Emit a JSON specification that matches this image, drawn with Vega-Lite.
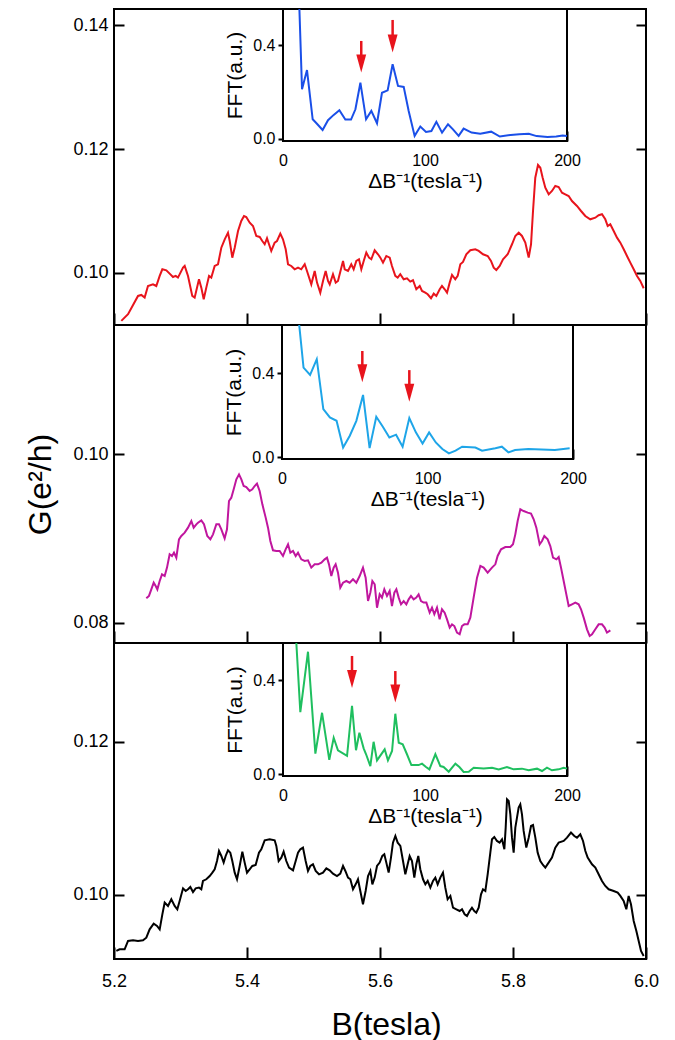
{
  "$schema": "https://vega.github.io/schema/vega-lite/v6.json",
  "background": "white",
  "padding": {"left": 23, "top": 7, "right": 5, "bottom": 0},
  "spacing": 0,
  "bounds": "flush",
  "config": {
    "font": "Liberation Sans",
    "view": {"stroke": "black", "strokeWidth": 2},
    "axis": {"labelFont": "Liberation Sans", "titleFont": "Liberation Sans", "labelColor": "black", "titleColor": "black", "tickColor": "black", "titleFontWeight": "normal", "labelFlush": false, "grid": false, "labelOverlap": false}
  },
  "datasets": {
    "top": [{"B":5.2110,"G":0.09226},{"B":5.2211,"G":0.09334},{"B":5.2361,"G":0.09629},{"B":5.2411,"G":0.09645},{"B":5.2461,"G":0.09602},{"B":5.2511,"G":0.09790},{"B":5.2586,"G":0.09817},{"B":5.2636,"G":0.09790},{"B":5.2687,"G":0.09952},{"B":5.2727,"G":0.10059},{"B":5.2787,"G":0.10043},{"B":5.2837,"G":0.09989},{"B":5.2887,"G":0.09935},{"B":5.2928,"G":0.09952},{"B":5.2962,"G":0.09925},{"B":5.3038,"G":0.10086},{"B":5.3063,"G":0.10113},{"B":5.3113,"G":0.09952},{"B":5.3177,"G":0.09629},{"B":5.3213,"G":0.09602},{"B":5.3278,"G":0.09898},{"B":5.3313,"G":0.09763},{"B":5.3349,"G":0.09575},{"B":5.3388,"G":0.09763},{"B":5.3429,"G":0.09952},{"B":5.3463,"G":0.09925},{"B":5.3514,"G":0.10113},{"B":5.3564,"G":0.10140},{"B":5.3614,"G":0.10408},{"B":5.3665,"G":0.10543},{"B":5.3714,"G":0.10650},{"B":5.3740,"G":0.10516},{"B":5.3779,"G":0.10247},{"B":5.3815,"G":0.10408},{"B":5.3865,"G":0.10677},{"B":5.3914,"G":0.10839},{"B":5.3955,"G":0.10919},{"B":5.3989,"G":0.10903},{"B":5.4041,"G":0.10811},{"B":5.4090,"G":0.10758},{"B":5.4140,"G":0.10597},{"B":5.4191,"G":0.10581},{"B":5.4230,"G":0.10516},{"B":5.4266,"G":0.10463},{"B":5.4301,"G":0.10560},{"B":5.4331,"G":0.10463},{"B":5.4365,"G":0.10355},{"B":5.4416,"G":0.10489},{"B":5.4451,"G":0.10516},{"B":5.4501,"G":0.10634},{"B":5.4541,"G":0.10543},{"B":5.4582,"G":0.10382},{"B":5.4617,"G":0.10140},{"B":5.4666,"G":0.10113},{"B":5.4717,"G":0.10059},{"B":5.4767,"G":0.10086},{"B":5.4816,"G":0.10059},{"B":5.4868,"G":0.10140},{"B":5.4902,"G":0.10032},{"B":5.4967,"G":0.09817},{"B":5.5018,"G":0.10032},{"B":5.5053,"G":0.09844},{"B":5.5102,"G":0.09682},{"B":5.5143,"G":0.09871},{"B":5.5183,"G":0.10032},{"B":5.5218,"G":0.09871},{"B":5.5244,"G":0.09817},{"B":5.5293,"G":0.09979},{"B":5.5334,"G":0.09844},{"B":5.5368,"G":0.09871},{"B":5.5444,"G":0.10194},{"B":5.5469,"G":0.10059},{"B":5.5519,"G":0.10032},{"B":5.5568,"G":0.10140},{"B":5.5604,"G":0.10059},{"B":5.5644,"G":0.10194},{"B":5.5684,"G":0.10221},{"B":5.5719,"G":0.10059},{"B":5.5755,"G":0.10194},{"B":5.5794,"G":0.10328},{"B":5.5835,"G":0.10247},{"B":5.5869,"G":0.10221},{"B":5.5920,"G":0.10366},{"B":5.5970,"G":0.10301},{"B":5.6005,"G":0.10247},{"B":5.6045,"G":0.10167},{"B":5.6095,"G":0.10274},{"B":5.6146,"G":0.10247},{"B":5.6180,"G":0.10113},{"B":5.6230,"G":0.09952},{"B":5.6266,"G":0.09925},{"B":5.6305,"G":0.09979},{"B":5.6356,"G":0.09898},{"B":5.6406,"G":0.09914},{"B":5.6455,"G":0.09860},{"B":5.6496,"G":0.09882},{"B":5.6546,"G":0.09737},{"B":5.6597,"G":0.09790},{"B":5.6632,"G":0.09710},{"B":5.6681,"G":0.09682},{"B":5.6717,"G":0.09656},{"B":5.6767,"G":0.09592},{"B":5.6808,"G":0.09666},{"B":5.6847,"G":0.09629},{"B":5.6898,"G":0.09737},{"B":5.6932,"G":0.09790},{"B":5.6973,"G":0.09737},{"B":5.7008,"G":0.09682},{"B":5.7048,"G":0.09844},{"B":5.7083,"G":0.09968},{"B":5.7132,"G":0.09898},{"B":5.7168,"G":0.09952},{"B":5.7208,"G":0.10140},{"B":5.7248,"G":0.10177},{"B":5.7298,"G":0.10301},{"B":5.7358,"G":0.10366},{"B":5.7433,"G":0.10382},{"B":5.7484,"G":0.10355},{"B":5.7549,"G":0.10301},{"B":5.7620,"G":0.10274},{"B":5.7669,"G":0.10194},{"B":5.7710,"G":0.10086},{"B":5.7749,"G":0.10048},{"B":5.7800,"G":0.10113},{"B":5.7850,"G":0.10221},{"B":5.7920,"G":0.10301},{"B":5.7985,"G":0.10463},{"B":5.8035,"G":0.10597},{"B":5.8086,"G":0.10650},{"B":5.8135,"G":0.10597},{"B":5.8185,"G":0.10489},{"B":5.8236,"G":0.10247},{"B":5.8271,"G":0.10463},{"B":5.8301,"G":0.11000},{"B":5.8335,"G":0.11537},{"B":5.8376,"G":0.11742},{"B":5.8411,"G":0.11698},{"B":5.8446,"G":0.11537},{"B":5.8486,"G":0.11376},{"B":5.8537,"G":0.11269},{"B":5.8586,"G":0.11323},{"B":5.8636,"G":0.11403},{"B":5.8687,"G":0.11387},{"B":5.8737,"G":0.11296},{"B":5.8786,"G":0.11269},{"B":5.8837,"G":0.11242},{"B":5.8887,"G":0.11161},{"B":5.8962,"G":0.11081},{"B":5.9023,"G":0.11000},{"B":5.9087,"G":0.10919},{"B":5.9162,"G":0.10866},{"B":5.9238,"G":0.10892},{"B":5.9288,"G":0.10931},{"B":5.9338,"G":0.10947},{"B":5.9388,"G":0.10866},{"B":5.9424,"G":0.10758},{"B":5.9463,"G":0.10785},{"B":5.9514,"G":0.10677},{"B":5.9564,"G":0.10570},{"B":5.9614,"G":0.10489},{"B":5.9665,"G":0.10382},{"B":5.9714,"G":0.10274},{"B":5.9764,"G":0.10167},{"B":5.9815,"G":0.10059},{"B":5.9865,"G":0.09952},{"B":5.9914,"G":0.09871},{"B":5.9965,"G":0.09753}],
    "mid": [{"B":5.2486,"G":0.08292},{"B":5.2526,"G":0.08320},{"B":5.2561,"G":0.08398},{"B":5.2597,"G":0.08477},{"B":5.2627,"G":0.08438},{"B":5.2652,"G":0.08398},{"B":5.2687,"G":0.08497},{"B":5.2722,"G":0.08576},{"B":5.2762,"G":0.08556},{"B":5.2797,"G":0.08655},{"B":5.2837,"G":0.08813},{"B":5.2872,"G":0.08793},{"B":5.2902,"G":0.08832},{"B":5.2937,"G":0.08773},{"B":5.2977,"G":0.08990},{"B":5.3012,"G":0.09030},{"B":5.3063,"G":0.09069},{"B":5.3113,"G":0.09128},{"B":5.3163,"G":0.09207},{"B":5.3198,"G":0.09128},{"B":5.3238,"G":0.09168},{"B":5.3263,"G":0.09187},{"B":5.3313,"G":0.09215},{"B":5.3353,"G":0.09168},{"B":5.3403,"G":0.09030},{"B":5.3449,"G":0.08990},{"B":5.3489,"G":0.09049},{"B":5.3539,"G":0.09168},{"B":5.3579,"G":0.09168},{"B":5.3614,"G":0.09108},{"B":5.3664,"G":0.09002},{"B":5.3699,"G":0.09108},{"B":5.3729,"G":0.09444},{"B":5.3764,"G":0.09483},{"B":5.3800,"G":0.09582},{"B":5.3840,"G":0.09700},{"B":5.3880,"G":0.09759},{"B":5.3915,"G":0.09700},{"B":5.3950,"G":0.09621},{"B":5.3990,"G":0.09609},{"B":5.4040,"G":0.09562},{"B":5.4080,"G":0.09582},{"B":5.4115,"G":0.09621},{"B":5.4150,"G":0.09649},{"B":5.4190,"G":0.09562},{"B":5.4231,"G":0.09404},{"B":5.4281,"G":0.09247},{"B":5.4316,"G":0.09128},{"B":5.4351,"G":0.08970},{"B":5.4391,"G":0.08860},{"B":5.4441,"G":0.08852},{"B":5.4491,"G":0.08852},{"B":5.4541,"G":0.08793},{"B":5.4581,"G":0.08872},{"B":5.4617,"G":0.08931},{"B":5.4652,"G":0.08832},{"B":5.4692,"G":0.08852},{"B":5.4732,"G":0.08793},{"B":5.4767,"G":0.08832},{"B":5.4817,"G":0.08753},{"B":5.4867,"G":0.08734},{"B":5.4917,"G":0.08742},{"B":5.4967,"G":0.08655},{"B":5.5017,"G":0.08694},{"B":5.5068,"G":0.08694},{"B":5.5118,"G":0.08714},{"B":5.5168,"G":0.08753},{"B":5.5203,"G":0.08773},{"B":5.5233,"G":0.08694},{"B":5.5268,"G":0.08556},{"B":5.5303,"G":0.08655},{"B":5.5333,"G":0.08694},{"B":5.5368,"G":0.08596},{"B":5.5403,"G":0.08418},{"B":5.5444,"G":0.08477},{"B":5.5494,"G":0.08497},{"B":5.5544,"G":0.08477},{"B":5.5594,"G":0.08517},{"B":5.5644,"G":0.08477},{"B":5.5694,"G":0.08556},{"B":5.5744,"G":0.08655},{"B":5.5784,"G":0.08536},{"B":5.5820,"G":0.08260},{"B":5.5855,"G":0.08359},{"B":5.5885,"G":0.08497},{"B":5.5920,"G":0.08458},{"B":5.5955,"G":0.08181},{"B":5.5995,"G":0.08339},{"B":5.6030,"G":0.08300},{"B":5.6065,"G":0.08398},{"B":5.6105,"G":0.08320},{"B":5.6145,"G":0.08379},{"B":5.6180,"G":0.08201},{"B":5.6216,"G":0.08359},{"B":5.6246,"G":0.08398},{"B":5.6281,"G":0.08300},{"B":5.6316,"G":0.08221},{"B":5.6356,"G":0.08260},{"B":5.6396,"G":0.08221},{"B":5.6431,"G":0.08280},{"B":5.6466,"G":0.08320},{"B":5.6506,"G":0.08280},{"B":5.6546,"G":0.08300},{"B":5.6581,"G":0.08339},{"B":5.6617,"G":0.08260},{"B":5.6657,"G":0.08241},{"B":5.6697,"G":0.08241},{"B":5.6747,"G":0.08122},{"B":5.6782,"G":0.08181},{"B":5.6817,"G":0.08103},{"B":5.6857,"G":0.08181},{"B":5.6897,"G":0.08043},{"B":5.6932,"G":0.08162},{"B":5.6972,"G":0.08122},{"B":5.7008,"G":0.08043},{"B":5.7048,"G":0.07945},{"B":5.7083,"G":0.07984},{"B":5.7118,"G":0.07964},{"B":5.7158,"G":0.07886},{"B":5.7198,"G":0.07866},{"B":5.7233,"G":0.07964},{"B":5.7268,"G":0.07984},{"B":5.7318,"G":0.07984},{"B":5.7358,"G":0.08063},{"B":5.7408,"G":0.08300},{"B":5.7459,"G":0.08536},{"B":5.7509,"G":0.08675},{"B":5.7559,"G":0.08655},{"B":5.7619,"G":0.08596},{"B":5.7684,"G":0.08655},{"B":5.7734,"G":0.08694},{"B":5.7769,"G":0.08793},{"B":5.7820,"G":0.08872},{"B":5.7885,"G":0.08899},{"B":5.7960,"G":0.08899},{"B":5.8000,"G":0.08931},{"B":5.8035,"G":0.09049},{"B":5.8070,"G":0.09207},{"B":5.8110,"G":0.09345},{"B":5.8160,"G":0.09325},{"B":5.8221,"G":0.09306},{"B":5.8271,"G":0.09294},{"B":5.8311,"G":0.09227},{"B":5.8351,"G":0.09128},{"B":5.8401,"G":0.08931},{"B":5.8436,"G":0.08970},{"B":5.8471,"G":0.09030},{"B":5.8521,"G":0.08990},{"B":5.8561,"G":0.08911},{"B":5.8602,"G":0.08773},{"B":5.8652,"G":0.08753},{"B":5.8687,"G":0.08781},{"B":5.8722,"G":0.08655},{"B":5.8762,"G":0.08497},{"B":5.8802,"G":0.08339},{"B":5.8837,"G":0.08201},{"B":5.8887,"G":0.08221},{"B":5.8937,"G":0.08241},{"B":5.8987,"G":0.08221},{"B":5.9023,"G":0.08162},{"B":5.9063,"G":0.08063},{"B":5.9113,"G":0.07925},{"B":5.9153,"G":0.07846},{"B":5.9188,"G":0.07866},{"B":5.9238,"G":0.07925},{"B":5.9288,"G":0.07984},{"B":5.9338,"G":0.07984},{"B":5.9378,"G":0.07945},{"B":5.9413,"G":0.07886},{"B":5.9464,"G":0.07913}],
    "bot": [{"B":5.2035,"G":0.09268},{"B":5.2085,"G":0.09290},{"B":5.2160,"G":0.09290},{"B":5.2211,"G":0.09399},{"B":5.2286,"G":0.09407},{"B":5.2361,"G":0.09399},{"B":5.2436,"G":0.09407},{"B":5.2486,"G":0.09442},{"B":5.2536,"G":0.09551},{"B":5.2597,"G":0.09625},{"B":5.2647,"G":0.09595},{"B":5.2687,"G":0.09551},{"B":5.2727,"G":0.09747},{"B":5.2762,"G":0.09900},{"B":5.2812,"G":0.09856},{"B":5.2862,"G":0.09943},{"B":5.2912,"G":0.09856},{"B":5.2952,"G":0.09813},{"B":5.2987,"G":0.09922},{"B":5.3038,"G":0.10087},{"B":5.3078,"G":0.10052},{"B":5.3113,"G":0.10074},{"B":5.3148,"G":0.10105},{"B":5.3188,"G":0.10039},{"B":5.3228,"G":0.10087},{"B":5.3278,"G":0.10096},{"B":5.3313,"G":0.10074},{"B":5.3338,"G":0.10183},{"B":5.3388,"G":0.10205},{"B":5.3439,"G":0.10248},{"B":5.3479,"G":0.10292},{"B":5.3514,"G":0.10336},{"B":5.3549,"G":0.10444},{"B":5.3579,"G":0.10575},{"B":5.3614,"G":0.10510},{"B":5.3649,"G":0.10423},{"B":5.3679,"G":0.10510},{"B":5.3714,"G":0.10584},{"B":5.3749,"G":0.10553},{"B":5.3779,"G":0.10444},{"B":5.3815,"G":0.10292},{"B":5.3850,"G":0.10205},{"B":5.3890,"G":0.10379},{"B":5.3930,"G":0.10566},{"B":5.3965,"G":0.10423},{"B":5.4000,"G":0.10292},{"B":5.4040,"G":0.10336},{"B":5.4080,"G":0.10379},{"B":5.4130,"G":0.10392},{"B":5.4180,"G":0.10553},{"B":5.4215,"G":0.10597},{"B":5.4266,"G":0.10715},{"B":5.4341,"G":0.10728},{"B":5.4416,"G":0.10715},{"B":5.4441,"G":0.10641},{"B":5.4476,"G":0.10444},{"B":5.4516,"G":0.10488},{"B":5.4551,"G":0.10566},{"B":5.4591,"G":0.10444},{"B":5.4632,"G":0.10357},{"B":5.4692,"G":0.10322},{"B":5.4732,"G":0.10444},{"B":5.4767,"G":0.10553},{"B":5.4802,"G":0.10597},{"B":5.4842,"G":0.10619},{"B":5.4882,"G":0.10444},{"B":5.4917,"G":0.10314},{"B":5.4952,"G":0.10379},{"B":5.4992,"G":0.10401},{"B":5.5033,"G":0.10314},{"B":5.5083,"G":0.10270},{"B":5.5143,"G":0.10292},{"B":5.5193,"G":0.10349},{"B":5.5243,"G":0.10322},{"B":5.5293,"G":0.10279},{"B":5.5353,"G":0.10248},{"B":5.5403,"G":0.10279},{"B":5.5444,"G":0.10379},{"B":5.5479,"G":0.10314},{"B":5.5519,"G":0.10227},{"B":5.5554,"G":0.10205},{"B":5.5594,"G":0.10074},{"B":5.5634,"G":0.10139},{"B":5.5669,"G":0.10205},{"B":5.5704,"G":0.10052},{"B":5.5744,"G":0.09878},{"B":5.5784,"G":0.10052},{"B":5.5820,"G":0.10248},{"B":5.5855,"G":0.10314},{"B":5.5885,"G":0.10139},{"B":5.5920,"G":0.10227},{"B":5.5955,"G":0.10379},{"B":5.5995,"G":0.10423},{"B":5.6035,"G":0.10510},{"B":5.6065,"G":0.10532},{"B":5.6095,"G":0.10423},{"B":5.6130,"G":0.10292},{"B":5.6165,"G":0.10488},{"B":5.6195,"G":0.10684},{"B":5.6231,"G":0.10771},{"B":5.6266,"G":0.10684},{"B":5.6306,"G":0.10641},{"B":5.6346,"G":0.10444},{"B":5.6381,"G":0.10270},{"B":5.6416,"G":0.10401},{"B":5.6446,"G":0.10510},{"B":5.6481,"G":0.10444},{"B":5.6516,"G":0.10227},{"B":5.6546,"G":0.10401},{"B":5.6576,"G":0.10510},{"B":5.6606,"G":0.10336},{"B":5.6647,"G":0.10205},{"B":5.6682,"G":0.10139},{"B":5.6717,"G":0.10183},{"B":5.6757,"G":0.10096},{"B":5.6797,"G":0.10183},{"B":5.6832,"G":0.10227},{"B":5.6867,"G":0.10139},{"B":5.6907,"G":0.10227},{"B":5.6947,"G":0.10292},{"B":5.6982,"G":0.10096},{"B":5.7017,"G":0.09943},{"B":5.7058,"G":0.09987},{"B":5.7098,"G":0.09834},{"B":5.7148,"G":0.09813},{"B":5.7198,"G":0.09791},{"B":5.7233,"G":0.09813},{"B":5.7273,"G":0.09747},{"B":5.7308,"G":0.09725},{"B":5.7348,"G":0.09791},{"B":5.7383,"G":0.09834},{"B":5.7418,"G":0.09791},{"B":5.7448,"G":0.09769},{"B":5.7484,"G":0.09834},{"B":5.7519,"G":0.10009},{"B":5.7549,"G":0.10074},{"B":5.7584,"G":0.10052},{"B":5.7619,"G":0.10270},{"B":5.7659,"G":0.10553},{"B":5.7684,"G":0.10728},{"B":5.7719,"G":0.10758},{"B":5.7759,"G":0.10706},{"B":5.7799,"G":0.10684},{"B":5.7835,"G":0.10728},{"B":5.7870,"G":0.10597},{"B":5.7890,"G":0.10880},{"B":5.7910,"G":0.11251},{"B":5.7935,"G":0.11229},{"B":5.7960,"G":0.11054},{"B":5.7985,"G":0.10749},{"B":5.8010,"G":0.10553},{"B":5.8035,"G":0.10880},{"B":5.8060,"G":0.11011},{"B":5.8085,"G":0.11142},{"B":5.8110,"G":0.11185},{"B":5.8135,"G":0.11054},{"B":5.8160,"G":0.10837},{"B":5.8200,"G":0.10619},{"B":5.8236,"G":0.10749},{"B":5.8271,"G":0.10902},{"B":5.8301,"G":0.10915},{"B":5.8336,"G":0.10749},{"B":5.8371,"G":0.10553},{"B":5.8411,"G":0.10444},{"B":5.8451,"G":0.10392},{"B":5.8486,"G":0.10357},{"B":5.8536,"G":0.10423},{"B":5.8586,"G":0.10488},{"B":5.8636,"G":0.10619},{"B":5.8687,"G":0.10684},{"B":5.8762,"G":0.10706},{"B":5.8812,"G":0.10749},{"B":5.8872,"G":0.10815},{"B":5.8922,"G":0.10771},{"B":5.8962,"G":0.10749},{"B":5.9012,"G":0.10793},{"B":5.9053,"G":0.10706},{"B":5.9088,"G":0.10575},{"B":5.9123,"G":0.10488},{"B":5.9188,"G":0.10401},{"B":5.9238,"G":0.10357},{"B":5.9288,"G":0.10270},{"B":5.9338,"G":0.10183},{"B":5.9388,"G":0.10118},{"B":5.9439,"G":0.10074},{"B":5.9514,"G":0.10052},{"B":5.9574,"G":0.10030},{"B":5.9614,"G":0.09987},{"B":5.9664,"G":0.09922},{"B":5.9704,"G":0.09813},{"B":5.9739,"G":0.09987},{"B":5.9774,"G":0.09878},{"B":5.9815,"G":0.09660},{"B":5.9855,"G":0.09529},{"B":5.9890,"G":0.09399},{"B":5.9925,"G":0.09268},{"B":5.9965,"G":0.09203}],
    "fftTop": [{"dB":11.2,"F":0.62},{"dB":13.4,"F":0.212},{"dB":16.9,"F":0.294},{"dB":20.9,"F":0.083},{"dB":23.9,"F":0.064},{"dB":27.9,"F":0.037},{"dB":31.7,"F":0.079},{"dB":35.7,"F":0.102},{"dB":39.7,"F":0.122},{"dB":43.9,"F":0.082},{"dB":47.9,"F":0.082},{"dB":51.0,"F":0.126},{"dB":54.5,"F":0.240},{"dB":58.5,"F":0.083},{"dB":62.2,"F":0.119},{"dB":66.2,"F":0.066},{"dB":69.7,"F":0.197},{"dB":73.7,"F":0.207},{"dB":77.2,"F":0.319},{"dB":81.0,"F":0.226},{"dB":85.0,"F":0.222},{"dB":88.5,"F":0.119},{"dB":92.7,"F":0.012},{"dB":96.7,"F":0.052},{"dB":100.7,"F":0.029},{"dB":104.5,"F":0.033},{"dB":108.0,"F":0.072},{"dB":112.0,"F":0.026},{"dB":116.2,"F":0.062},{"dB":119.7,"F":0.040},{"dB":123.7,"F":0.012},{"dB":127.2,"F":0.043},{"dB":132.8,"F":0.026},{"dB":138.9,"F":0.021},{"dB":146.6,"F":0.030},{"dB":152.7,"F":0.009},{"dB":160.3,"F":0.016},{"dB":166.4,"F":0.019},{"dB":173.1,"F":0.021},{"dB":178.6,"F":0.011},{"dB":186.3,"F":0.007},{"dB":192.4,"F":0.009},{"dB":196.9,"F":0.014},{"dB":200,"F":0.011}],
    "fftMid": [{"dB":10.8,"F":0.70},{"dB":14.8,"F":0.427},{"dB":19.3,"F":0.392},{"dB":23.9,"F":0.467},{"dB":28.4,"F":0.230},{"dB":32.9,"F":0.190},{"dB":37.5,"F":0.174},{"dB":42.0,"F":0.047},{"dB":46.6,"F":0.103},{"dB":51.1,"F":0.174},{"dB":55.7,"F":0.297},{"dB":60.2,"F":0.044},{"dB":64.8,"F":0.193},{"dB":69.3,"F":0.146},{"dB":73.8,"F":0.095},{"dB":78.4,"F":0.108},{"dB":82.9,"F":0.051},{"dB":87.5,"F":0.187},{"dB":92.0,"F":0.119},{"dB":96.6,"F":0.066},{"dB":101.1,"F":0.119},{"dB":105.7,"F":0.071},{"dB":110.2,"F":0.040},{"dB":114.7,"F":0.019},{"dB":119.3,"F":0.032},{"dB":123.8,"F":0.051},{"dB":132.9,"F":0.047},{"dB":137.5,"F":0.032},{"dB":146.6,"F":0.044},{"dB":151.1,"F":0.051},{"dB":155.6,"F":0.024},{"dB":160.2,"F":0.035},{"dB":169.3,"F":0.040},{"dB":178.4,"F":0.038},{"dB":187.5,"F":0.035},{"dB":197.7,"F":0.043}],
    "fftBot": [{"dB":8.6,"F":0.64},{"dB":12.2,"F":0.264},{"dB":17.6,"F":0.520},{"dB":22.8,"F":0.088},{"dB":27.5,"F":0.261},{"dB":32.6,"F":0.061},{"dB":35.7,"F":0.155},{"dB":38.7,"F":0.102},{"dB":45.1,"F":0.078},{"dB":48.6,"F":0.290},{"dB":51.4,"F":0.102},{"dB":53.8,"F":0.176},{"dB":56.8,"F":0.110},{"dB":58.5,"F":0.085},{"dB":61.5,"F":0.035},{"dB":63.8,"F":0.138},{"dB":66.2,"F":0.059},{"dB":71.6,"F":0.106},{"dB":73.9,"F":0.059},{"dB":76.8,"F":0.099},{"dB":79.1,"F":0.257},{"dB":81.5,"F":0.134},{"dB":84.3,"F":0.127},{"dB":87.3,"F":0.085},{"dB":90.4,"F":0.039},{"dB":95.5,"F":0.039},{"dB":97.9,"F":0.045},{"dB":100.7,"F":0.031},{"dB":103.1,"F":0.021},{"dB":107.3,"F":0.085},{"dB":110.8,"F":0.035},{"dB":113.1,"F":0.031},{"dB":116.7,"F":0.011},{"dB":121.4,"F":0.045},{"dB":124.2,"F":0.031},{"dB":127.2,"F":0.010},{"dB":130.8,"F":0.011},{"dB":134.3,"F":0.028},{"dB":141.3,"F":0.025},{"dB":147.2,"F":0.028},{"dB":151.9,"F":0.021},{"dB":157.7,"F":0.031},{"dB":162.4,"F":0.021},{"dB":168.3,"F":0.024},{"dB":173.0,"F":0.017},{"dB":178.9,"F":0.024},{"dB":182.4,"F":0.014},{"dB":185.9,"F":0.028},{"dB":189.4,"F":0.017},{"dB":194.1,"F":0.021},{"dB":197.7,"F":0.028},{"dB":200,"F":0.024}],
    "arrTop": [{"dB":55.1,"top":0.419,"head":0.322},{"dB":77.2,"top":0.509,"head":0.408}],
    "arrMid": [{"dB":55.2,"top":0.506,"head":0.400},{"dB":87.5,"top":0.415,"head":0.307}],
    "arrBot": [{"dB":48.6,"top":0.502,"head":0.404},{"dB":79.1,"top":0.438,"head":0.343}]
  },
  "vconcat": [
    {
      "width": 532, "height": 316,
      "resolve": {"scale": {"x": "independent", "y": "independent"}},
      "layer": [
        {
          "data": {"name": "top"},
          "mark": {"type": "line", "color": "#e8141c", "strokeWidth": 2},
          "encoding": {
            "x": {"field": "B", "type": "quantitative", "scale": {"domain": [5.2, 6.0], "nice": false, "zero": false},
                  "axis": {"orient": "bottom", "values": [5.2, 5.4, 5.6, 5.8, 6.0], "tickSize": -12, "tickWidth": 2, "labels": false, "domain": false, "title": null}},
            "y": {"field": "G", "type": "quantitative", "scale": {"domain": [0.0916, 0.1426], "nice": false, "zero": false},
                  "axis": {"orient": "left", "values": [0.10, 0.12, 0.14], "format": ".2f", "tickSize": -10, "tickWidth": 2, "labelPadding": 16, "labelFontSize": 18, "domain": false, "title": null}}
          }
        },
        {
          "data": {"name": "top"},
          "mark": {"type": "line", "opacity": 0},
          "encoding": {
            "x": {"field": "B", "type": "quantitative", "scale": {"domain": [5.2, 6.0], "nice": false, "zero": false}, "axis": null},
            "y": {"field": "G", "type": "quantitative", "scale": {"domain": [0.0916, 0.1426], "nice": false, "zero": false},
                  "axis": {"orient": "right", "values": [0.10, 0.12, 0.14], "tickSize": -10, "tickWidth": 2, "labels": false, "domain": false, "title": null}}
          }
        },
        {
          "layer": [
            {
              "data": {"values": [{}]},
              "mark": {"type": "rect", "fill": "white", "stroke": "black", "strokeWidth": 2},
              "encoding": {
                "x": {"datum": 0, "type": "quantitative"},
                "x2": {"datum": 200},
                "y": {"datum": -0.010, "type": "quantitative"},
                "y2": {"datum": 0.556}
              }
            },
            {
              "data": {"name": "fftTop"},
              "mark": {"type": "line", "color": "#1a4fe8", "strokeWidth": 2, "clip": true},
              "encoding": {
                "x": {"field": "dB", "type": "quantitative", "scale": {"domain": [0, 200], "range": [169, 453], "nice": false, "zero": false},
                      "axis": {"orient": "bottom", "offset": -184, "values": [0, 100, 200], "tickSize": -10, "tickWidth": 2, "labelPadding": 21, "labelFontSize": 16, "domain": false, "title": "ΔB⁻¹(tesla⁻¹)", "titleFontSize": 21, "titlePadding": 2}},
                "y": {"field": "F", "type": "quantitative", "scale": {"domain": [-0.010, 0.556], "range": [132, 0], "nice": false, "zero": false},
                      "axis": {"orient": "left", "offset": -169, "values": [0, 0.4], "format": ".1f", "tickSize": 5, "tickWidth": 2, "labelPadding": 3, "labelFontSize": 16, "domain": false, "title": "FFT(a.u.)", "titleFontSize": 21, "titlePadding": 7}}
              }
            },
            {
              "data": {"name": "arrTop"},
              "mark": {"type": "rule", "color": "#e8141c", "strokeWidth": 2.5},
              "encoding": {"x": {"field": "dB", "type": "quantitative"}, "y": {"field": "top", "type": "quantitative"}, "y2": {"field": "head"}}
            },
            {
              "data": {"name": "arrTop"},
              "mark": {"type": "point", "shape": "M-0.55,-1L0.55,-1L0,1Z", "filled": true, "color": "#e8141c", "size": 324, "opacity": 1},
              "encoding": {"x": {"field": "dB", "type": "quantitative"}, "y": {"field": "head", "type": "quantitative"}}
            }
          ]
        }
      ]
    },
    {
      "width": 532, "height": 318,
      "resolve": {"scale": {"x": "independent", "y": "independent"}},
      "layer": [
        {
          "data": {"name": "mid"},
          "mark": {"type": "line", "color": "#c0169e", "strokeWidth": 2},
          "encoding": {
            "x": {"field": "B", "type": "quantitative", "scale": {"domain": [5.2, 6.0], "nice": false, "zero": false},
                  "axis": {"orient": "bottom", "values": [5.2, 5.4, 5.6, 5.8, 6.0], "tickSize": -12, "tickWidth": 2, "labels": false, "domain": false, "title": null}},
            "y": {"field": "G", "type": "quantitative", "scale": {"domain": [0.07763, 0.11527], "nice": false, "zero": false},
                  "axis": {"orient": "left", "values": [0.08, 0.10], "format": ".2f", "tickSize": -10, "tickWidth": 2, "labelPadding": 16, "labelFontSize": 18, "domain": false, "title": "G(e²/h)", "titleFontSize": 32, "titlePadding": 15}}
          }
        },
        {
          "data": {"name": "mid"},
          "mark": {"type": "line", "opacity": 0},
          "encoding": {
            "x": {"field": "B", "type": "quantitative", "scale": {"domain": [5.2, 6.0], "nice": false, "zero": false}, "axis": null},
            "y": {"field": "G", "type": "quantitative", "scale": {"domain": [0.07763, 0.11527], "nice": false, "zero": false},
                  "axis": {"orient": "right", "values": [0.08, 0.10], "tickSize": -10, "tickWidth": 2, "labels": false, "domain": false, "title": null}}
          }
        },
        {
          "layer": [
            {
              "data": {"values": [{}]},
              "mark": {"type": "rect", "fill": "white", "stroke": "black", "strokeWidth": 2},
              "encoding": {
                "x": {"datum": 0, "type": "quantitative"},
                "x2": {"datum": 200},
                "y": {"datum": -0.0076, "type": "quantitative"},
                "y2": {"datum": 0.6295}
              }
            },
            {
              "data": {"name": "fftMid"},
              "mark": {"type": "line", "color": "#1ea5e8", "strokeWidth": 2, "clip": true},
              "encoding": {
                "x": {"field": "dB", "type": "quantitative", "scale": {"domain": [0, 200], "range": [168, 459], "nice": false, "zero": false},
                      "axis": {"orient": "bottom", "offset": -184, "values": [0, 100, 200], "tickSize": -10, "tickWidth": 2, "labelPadding": 21, "labelFontSize": 16, "domain": false, "title": "ΔB⁻¹(tesla⁻¹)", "titleFontSize": 21, "titlePadding": 2}},
                "y": {"field": "F", "type": "quantitative", "scale": {"domain": [-0.0076, 0.6295], "range": [134, 0], "nice": false, "zero": false},
                      "axis": {"orient": "left", "offset": -168, "values": [0, 0.4], "format": ".1f", "tickSize": 5, "tickWidth": 2, "labelPadding": 3, "labelFontSize": 16, "domain": false, "title": "FFT(a.u.)", "titleFontSize": 21, "titlePadding": 7}}
              }
            },
            {
              "data": {"name": "arrMid"},
              "mark": {"type": "rule", "color": "#e8141c", "strokeWidth": 2.5},
              "encoding": {"x": {"field": "dB", "type": "quantitative"}, "y": {"field": "top", "type": "quantitative"}, "y2": {"field": "head"}}
            },
            {
              "data": {"name": "arrMid"},
              "mark": {"type": "point", "shape": "M-0.55,-1L0.55,-1L0,1Z", "filled": true, "color": "#e8141c", "size": 324, "opacity": 1},
              "encoding": {"x": {"field": "dB", "type": "quantitative"}, "y": {"field": "head", "type": "quantitative"}}
            }
          ]
        }
      ]
    },
    {
      "width": 532, "height": 316,
      "resolve": {"scale": {"x": "independent", "y": "independent"}},
      "layer": [
        {
          "data": {"name": "bot"},
          "mark": {"type": "line", "color": "black", "strokeWidth": 2},
          "encoding": {
            "x": {"field": "B", "type": "quantitative", "scale": {"domain": [5.2, 6.0], "nice": false, "zero": false},
                  "axis": {"orient": "bottom", "values": [5.2, 5.4, 5.6, 5.8, 6.0], "format": ".1f", "tickSize": -12, "tickWidth": 2, "labelPadding": 25, "labelFontSize": 18, "domain": false, "title": "B(tesla)", "titleFontSize": 32, "titlePadding": 19, "titleX": 272}},
            "y": {"field": "G", "type": "quantitative", "scale": {"domain": [0.09163, 0.13294], "nice": false, "zero": false},
                  "axis": {"orient": "left", "values": [0.10, 0.12], "format": ".2f", "tickSize": -10, "tickWidth": 2, "labelPadding": 16, "labelFontSize": 18, "domain": false, "title": null}}
          }
        },
        {
          "data": {"name": "bot"},
          "mark": {"type": "line", "opacity": 0},
          "encoding": {
            "x": {"field": "B", "type": "quantitative", "scale": {"domain": [5.2, 6.0], "nice": false, "zero": false}, "axis": null},
            "y": {"field": "G", "type": "quantitative", "scale": {"domain": [0.09163, 0.13294], "nice": false, "zero": false},
                  "axis": {"orient": "right", "values": [0.10, 0.12], "tickSize": -10, "tickWidth": 2, "labels": false, "domain": false, "title": null}}
          }
        },
        {
          "layer": [
            {
              "data": {"values": [{}]},
              "mark": {"type": "rect", "fill": "white", "stroke": "black", "strokeWidth": 2},
              "encoding": {
                "x": {"datum": 0, "type": "quantitative"},
                "x2": {"datum": 200},
                "y": {"datum": -0.0072, "type": "quantitative"},
                "y2": {"datum": 0.557}
              }
            },
            {
              "data": {"name": "fftBot"},
              "mark": {"type": "line", "color": "#1fbf5f", "strokeWidth": 2, "clip": true},
              "encoding": {
                "x": {"field": "dB", "type": "quantitative", "scale": {"domain": [0, 200], "range": [169, 453], "nice": false, "zero": false},
                      "axis": {"orient": "bottom", "offset": -183, "values": [0, 100, 200], "tickSize": -10, "tickWidth": 2, "labelPadding": 21, "labelFontSize": 16, "domain": false, "title": "ΔB⁻¹(tesla⁻¹)", "titleFontSize": 21, "titlePadding": 2}},
                "y": {"field": "F", "type": "quantitative", "scale": {"domain": [-0.0072, 0.557], "range": [133, 0], "nice": false, "zero": false},
                      "axis": {"orient": "left", "offset": -169, "values": [0, 0.4], "format": ".1f", "tickSize": 5, "tickWidth": 2, "labelPadding": 3, "labelFontSize": 16, "domain": false, "title": "FFT(a.u.)", "titleFontSize": 21, "titlePadding": 7}}
              }
            },
            {
              "data": {"name": "arrBot"},
              "mark": {"type": "rule", "color": "#e8141c", "strokeWidth": 2.5},
              "encoding": {"x": {"field": "dB", "type": "quantitative"}, "y": {"field": "top", "type": "quantitative"}, "y2": {"field": "head"}}
            },
            {
              "data": {"name": "arrBot"},
              "mark": {"type": "point", "shape": "M-0.55,-1L0.55,-1L0,1Z", "filled": true, "color": "#e8141c", "size": 324, "opacity": 1},
              "encoding": {"x": {"field": "dB", "type": "quantitative"}, "y": {"field": "head", "type": "quantitative"}}
            }
          ]
        }
      ]
    }
  ]
}
